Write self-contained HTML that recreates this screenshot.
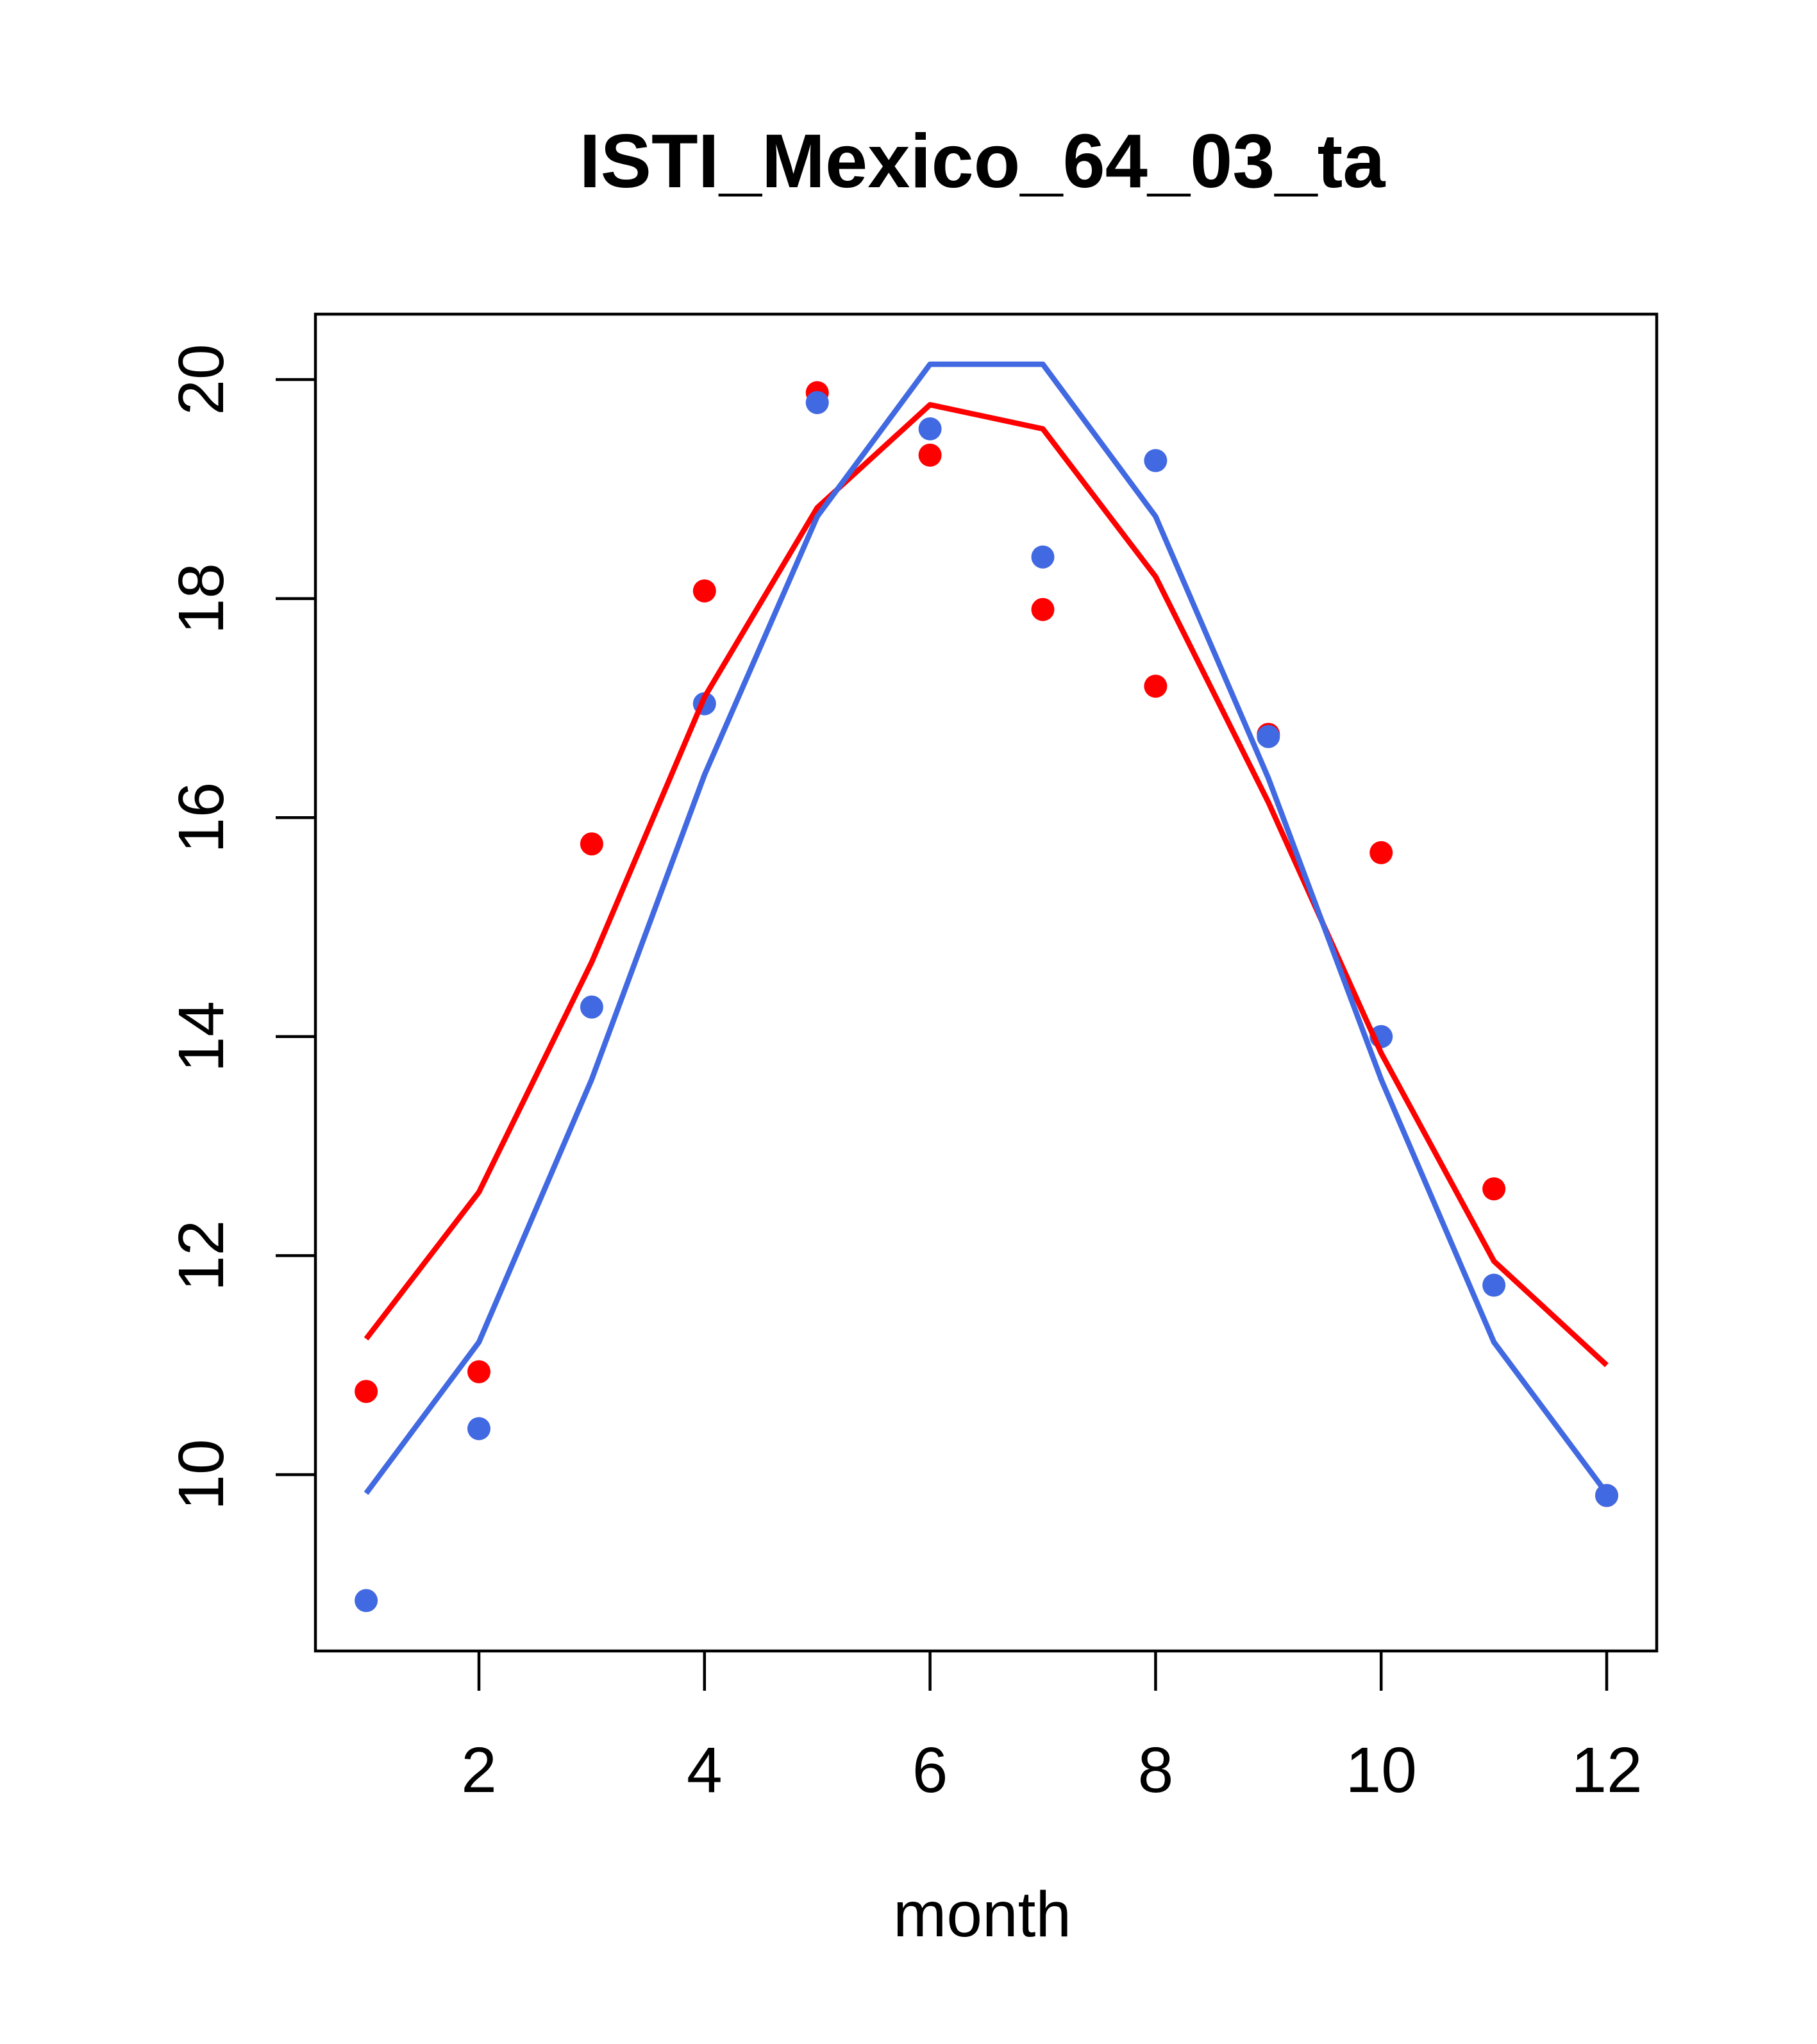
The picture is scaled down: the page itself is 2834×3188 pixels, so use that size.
<!DOCTYPE html>
<html><head><meta charset="utf-8"><style>
html,body{margin:0;padding:0;background:#fff;}
svg{display:block;}
text{font-family:"Liberation Sans",Arial,sans-serif;}
</style></head><body>
<svg id="chart" width="2834" height="3188" viewBox="0 0 2834 3188" xmlns="http://www.w3.org/2000/svg">
<rect width="2834" height="3188" fill="#fff"/>
<text x="1532" y="292" font-size="119" font-weight="bold" text-anchor="middle">ISTI_Mexico_64_03_ta</text>
<rect x="492" y="490" width="2092" height="2085" fill="none" stroke="#000" stroke-width="4.5"/>
<g id="xaxis"></g>
<g id="yaxis"></g>
<text x="1532" y="3020" font-size="100" text-anchor="middle">month</text>
<g id="series"></g>
</svg>
<script>
const months = [1,2,3,4,5,6,7,8,9,10,11,12];
const redPoints = [10.76,10.94,15.76,18.07,19.88,19.31,17.90,17.20,16.76,15.68,12.61,9.81];
const bluePoints = [8.85,10.42,14.27,17.04,19.79,19.55,18.38,19.26,16.74,14.0,11.73,9.81];
const redLine = [11.24,12.58,14.68,17.10,18.83,19.77,19.55,18.20,16.14,13.85,11.95,11.0];
const blueLine = [9.83,11.21,13.61,16.39,18.75,20.14,20.14,18.75,16.36,13.61,11.21,9.83];
const xTicks = [2,4,6,8,10,12];
const yTicks = [10,12,14,16,18,20];

const NS = "http://www.w3.org/2000/svg";
function xs(v){ return 747 + (v-2)*(2506-747)/10; }
function ys(v){ return 2300 - (v-10)*(2300-592)/10; }
function mk(tag, attrs, parent){
  const e = document.createElementNS(NS, tag);
  for (const k in attrs) e.setAttribute(k, attrs[k]);
  parent.appendChild(e); return e;
}
const xa = document.getElementById('xaxis');
const ya = document.getElementById('yaxis');
const se = document.getElementById('series');
xTicks.forEach(t=>{
  const l = mk('line',{x1:xs(t),x2:xs(t),y1:2575,y2:2637,stroke:'#000','stroke-width':4.5},xa);
  
  
  const tx = mk('text',{x:xs(t),y:2795,'font-size':100,'text-anchor':'middle'},xa);
  tx.textContent = t;
  
  
});
yTicks.forEach(t=>{
  const l = mk('line',{x1:430,x2:492,y1:ys(t),y2:ys(t),stroke:'#000','stroke-width':4.5},ya);
  
  
  const tx = mk('text',{x:0,y:0,'font-size':100,'text-anchor':'middle',transform:`translate(348,${ys(t)}) rotate(-90)`},ya);
  tx.textContent = t;
  
  
});
function line(vals,color,name){
  const p = mk('polyline',{points:vals.map((v,i)=>xs(months[i])+','+ys(v)).join(' '),fill:'none',stroke:color,'stroke-width':8.5,'stroke-linejoin':'round'},se);
  
  
}
function pts(vals,color,name){
  vals.forEach((v,i)=>{
    const c = mk('circle',{cx:xs(months[i]),cy:ys(v),r:18,fill:color},se);
    
    
  });
}
pts(redPoints,'#ff0000','red-point');
pts(bluePoints,'#4169e1','blue-point');
line(redLine,'#ff0000','red-line');
line(blueLine,'#4169e1','blue-line');
</script>
</body></html>
